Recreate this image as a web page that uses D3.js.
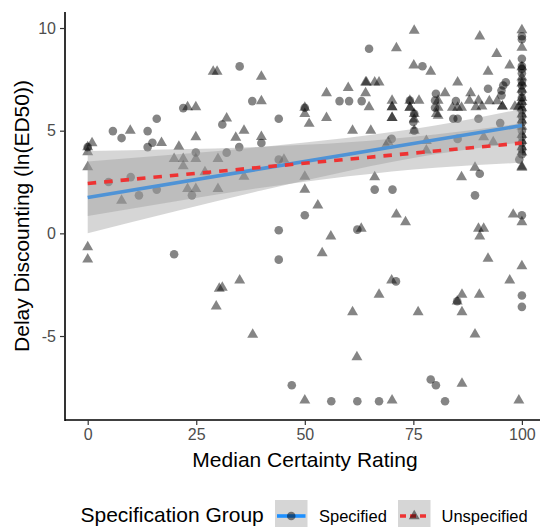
<!DOCTYPE html>
<html><head><meta charset="utf-8">
<script src="https://cdn.jsdelivr.net/npm/d3@7"></script>
<style>body{margin:0;background:#fff}svg{display:block}text{font-family:"Liberation Sans",Arial,sans-serif}</style>
</head><body>
<svg id="c" width="540" height="527"></svg>
<script>
// ---- data ----
const specified = [ // circles
[0,4.2],[5.8,4.98],[7.8,4.64],[13.8,4.98],[14.9,4.41],[13.8,4.2],[15.9,5.58],[22,6.1],[24.9,3.94],[9.9,2.74],
[4.8,2.5],[24,1.85],[15.9,2.13],[11.8,1.85],[31,5.3],[32,3.93],[34.9,4.2],[40,4.4],[35,8.13],[37.9,6.44],
[44,5.58],[44,3.59],[19.9,-1.02],[50,6.12],[58,6.44],[60.2,6.44],[63.1,6.44],[64.8,8.99],[50,0.88],[44,0.15],
[62.1,0.18],[44,-1.28],[47,-7.4],[56.1,-8.18],[62.1,-8.18],[100,0.88],[71,-2.34],[85.1,-3.31],[100,-3.03],[100,-3.58],
[79,-7.12],[80.2,-7.4],[67.1,-8.18],[82.3,-8.18],[89.2,1.85],[77.1,8.14],[96.3,7.36],[95.7,7.2],[95.3,6.96],[92.2,7.04],
[80.2,6.8],[74.2,6.47],[80,6.47],[80,6.12],[84.8,6.44],[84.2,5.58],[85.2,5.58],[90,5.58],[70,4.6],[85.2,4.6],
[95,5.37],[75,5.42],[75.2,5.0],[66.1,2.13],[70.2,2.13],[90.3,2.9],[99.4,3.6],[95.3,6.72],[75.2,5.82],
[100,9.6],[100,9.45],[100,8.5],[100,8.15],[100,8.0],[100,7.8],[100,7.4],[100,7.2],[100,6.9],[100,6.6],
[100,6.3],[100,6.0],[100,5.7],[100,5.4],[100,5.0],[100,4.7],[100,4.4],[100,4.1],[100,3.85]
];
const unspecified = [ // triangles
[28.9,7.88],[29.8,7.88],[23,6.15],[24.9,6.15],[9.8,5.0],[17,4.41],[0,4.2],[1,4.4],[0,3.96],[0,3.23],
[21,4.23],[24.9,4.69],[19.9,3.63],[22,3.63],[24.9,3.63],[22,3.28],[27,2.98],[23,2.17],[24.9,2.17],[7.8,1.6],
[30,3.63],[34.1,4.66],[36,5.0],[32,5.6],[40,4.7],[30,2.17],[36,2.77],[0,-0.67],[0,-1.27],[30.3,-2.69],
[29.6,-3.55],[40,7.64],[40,6.44],[45.2,3.59],[50,6.12],[50,5.82],[51,5.34],[55,6.83],[55,5.63],[50,2.77],
[50,2.13],[53,1.36],[60,7.09],[64,7.36],[64,6.83],[61,5.0],[64.8,6.15],[63,0.23],[56,-0.15],[54,-0.96],
[35,-2.29],[31,-2.64],[61,-3.83],[38,-4.93],[62,-6.02],[50,-8.13],[71.1,0.92],[73.2,0.55],[98,0.92],[100,0.55],
[90,0.23],[91.2,0.23],[90.3,-0.15],[92.2,-1.23],[100,-1.59],[70,-2.29],[97.2,-2.29],[67.1,-2.98],[86.2,-2.98],[90.2,-2.98],
[85.1,-3.31],[76.1,-3.83],[86.2,-3.83],[89.2,-4.92],[86.2,-7.32],[70.1,-8.13],[99.3,-8.13],[75.2,9.88],[71.1,9.02],[90.3,9.6],
[94.2,8.74],[75.1,8.18],[79,7.88],[92.2,7.88],[97.2,8.18],[64.2,7.36],[66.1,7.36],[67.1,7.36],[85.2,7.36],[88.2,6.83],
[82.3,6.83],[70.1,6.47],[70.1,6.15],[70.1,6.15],[70.1,5.63],[70.1,5.63],[74.2,6.47],[76.3,6.47],[74.2,6.12],[74.2,6.12],
[75.2,5.82],[75.2,5.55],[75.2,5.0],[80.7,6.47],[80.7,6.12],[80.7,5.74],[84,6.12],[86.1,6.12],[85.2,6.12],[87.9,6.47],
[90,6.47],[90.8,6.18],[92.5,6.44],[94.3,6.44],[95.5,6.18],[95.5,6.18],[98.4,6.18],[99.2,6.15],[89.4,6.15],[65.2,5.0],
[69.2,4.45],[68.7,4.28],[78,4.5],[78,4.04],[91.2,4.69],[93.4,4.45],[66.1,2.74],[86.1,2.74],[89.2,3.2],[100,3.2],
[80.3,5.82],
[100,9.9],[100,9.05],[100,8.1],[100,7.6],[100,7.3],[100,7.0],[100,6.6],[100,6.4],[100,6.1],[100,5.8],
[100,5.5],[100,5.2],[100,4.8],[100,4.5],[100,4.2],[100,3.95],[100,3.25]
];
// fitted lines and confidence bands
const specFit = [[0,1.75],[100,5.25]];
const unspecFit = [[0,2.43],[100,4.4]];
const bandX = [0,20,40,60,80,100];
const specLo = [0.0,1.06,2.09,3.04,3.85,4.44];
const specHi = [3.5,3.84,4.21,4.66,5.25,6.06];
const unspecLo = [0.85,1.55,2.22,2.78,3.2,3.44];
const unspecHi = [4.01,4.09,4.22,4.44,4.82,5.36];
const xTicks = [0,25,50,75,100];
const yTicks = [-5,0,5,10];
const groupNames = ["Specified","Unspecified"];

// ---- drawing ----
const svg = d3.select("#c");
const x = d3.scaleLinear().domain([-5,105]).range([66,543.6]);
const y = d3.scaleLinear().domain([-9.09,10.78]).range([420,12]);
const ptColor = "#000", ptOpacity = 0.48;
const blue = "#1E90FF", red = "#EE3333", ribbon = "#999999";

const pts = svg.append("g");
pts.selectAll("circle").data(specified).join("circle")
  .attr("cx",d=>x(d[0])).attr("cy",d=>y(d[1])).attr("r",4.3)
  .attr("fill",ptColor).attr("fill-opacity",ptOpacity);
const tri = d3.symbol().type(d3.symbolTriangle).size(52);
pts.selectAll("path").data(unspecified).join("path")
  .attr("d",tri).attr("transform",d=>`translate(${x(d[0])},${y(d[1])})`)
  .attr("fill",ptColor).attr("fill-opacity",ptOpacity);

function band(lo,hi){
  const data = bandX.map((v,i)=>({x:v,lo:lo[i],hi:hi[i]}));
  return d3.area().curve(d3.curveNatural).x(d=>x(d.x)).y0(d=>y(d.lo)).y1(d=>y(d.hi))(data);
}
const line = d3.line().x(d=>x(d[0])).y(d=>y(d[1]));
// group 1
svg.append("path").attr("d",band(specLo,specHi)).attr("fill",ribbon).attr("fill-opacity",0.4);
svg.append("path").attr("d",line(specFit)).attr("stroke",blue).attr("stroke-width",3.6).attr("fill","none");
// group 2
svg.append("path").attr("d",band(unspecLo,unspecHi)).attr("fill",ribbon).attr("fill-opacity",0.4);
svg.append("path").attr("d",line(unspecFit)).attr("stroke",red).attr("stroke-width",3.6).attr("fill","none")
  .attr("stroke-dasharray","8.5,8");

// axes
const xAxis = svg.append("g").attr("transform","translate(0,420)")
  .call(d3.axisBottom(x).tickValues(xTicks).tickSize(5).tickPadding(4));
const yAxis = svg.append("g").attr("transform","translate(65,0)")
  .call(d3.axisLeft(y).tickValues(yTicks).tickSize(5).tickPadding(4).tickFormat(d=>d<0?"-"+Math.abs(d):d));
[xAxis,yAxis].forEach(a=>{
  a.select(".domain").attr("stroke","#000").attr("stroke-width",1.6);
  a.selectAll(".tick line").attr("stroke","#333").attr("stroke-width",1.2);
  a.selectAll(".tick text").attr("fill","#4d4d4d").style("font-size","16px").style("font-family","Liberation Sans, Arial, sans-serif");
});
xAxis.select(".domain").attr("d","M65,0H544");
yAxis.select(".domain").attr("d","M0,12V421");

svg.append("text").attr("x",305).attr("y",467).attr("text-anchor","middle")
  .style("font-size","21px").attr("fill","#000").text("Median Certainty Rating");
svg.append("text").attr("transform","translate(29,216) rotate(-90)").attr("text-anchor","middle")
  .style("font-size","21px").attr("fill","#000").text("Delay Discounting (ln(ED50))");

// legend
const lg = svg.append("g");
lg.append("text").attr("x",80.5).attr("y",522).style("font-size","21px").attr("fill","#000").text("Specification Group");
const keys = [{x0:275, label:groupNames[0], col:blue, dash:null, shape:"c", tx:319},
              {x0:398, label:groupNames[1], col:red, dash:"6,4", shape:"t", tx:441.5}];
keys.forEach(k=>{
  lg.append("rect").attr("x",k.x0).attr("y",500).attr("width",32.5).attr("height",34).attr("fill","#d6d6d6");
  lg.append("line").attr("x1",k.x0+2).attr("x2",k.x0+30.5).attr("y1",516).attr("y2",516)
    .attr("stroke",k.col).attr("stroke-width",3.6).attr("stroke-dasharray",k.dash);
  if(k.shape==="c") lg.append("circle").attr("cx",k.x0+16.25).attr("cy",516).attr("r",4.3).attr("fill",ptColor).attr("fill-opacity",ptOpacity);
  else lg.append("path").attr("d",tri).attr("transform",`translate(${k.x0+16.25},516)`).attr("fill",ptColor).attr("fill-opacity",ptOpacity);
  lg.append("text").attr("x",k.tx).attr("y",521.5).style("font-size","16.5px").attr("fill","#000").text(k.label);
});
</script>
</body></html>
